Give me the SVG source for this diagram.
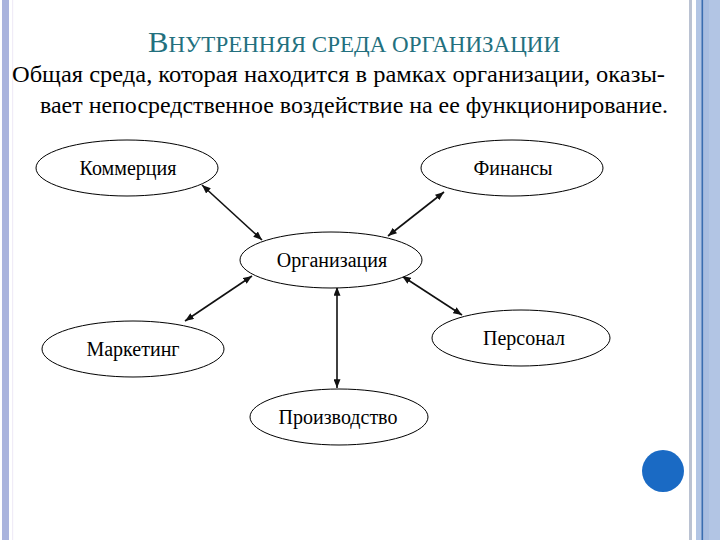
<svg xmlns="http://www.w3.org/2000/svg" width="720" height="540" viewBox="0 0 720 540">
<style>
.node ellipse{fill:#fff;stroke:#000;stroke-width:1}
.node text{font-family:"Liberation Serif","Times New Roman",serif;font-size:20px;fill:#000;text-anchor:middle}
.conn line{stroke:#111;stroke-width:1.6}
.body{font-family:"Liberation Serif","Times New Roman",serif;font-size:24px;fill:#000}
.title{font-family:"Liberation Serif","Times New Roman",serif;fill:#23707e}
</style>
<defs>
<marker id="ah" viewBox="0 0 10 8" refX="10" refY="4" markerWidth="9" markerHeight="7" markerUnits="userSpaceOnUse" orient="auto-start-reverse">
<path d="M0,0 L10,4 L0,8 z" fill="#111"/>
</marker>
</defs>
<rect width="720" height="540" fill="#fff"/>
<g id="frame">
<rect x="2" y="0" width="7" height="540" fill="#aab4dd"/>
<rect x="12" y="0" width="1.2" height="540" fill="#f0ecf7"/>
<rect x="689" y="0" width="3" height="540" fill="#bac2d2"/>
<rect x="696" y="0" width="24" height="540" fill="#b2c5e4"/>
<rect x="703" y="0" width="6" height="540" fill="#a9bde0"/>
<rect x="701.5" y="0" width="1.6" height="540" fill="#3a6db0"/>
</g>
<g id="title">
<text class="title" x="148" y="52" textLength="412" lengthAdjust="spacingAndGlyphs"><tspan font-size="30">В</tspan><tspan font-size="22.5">НУТРЕННЯЯ СРЕДА ОРГАНИЗАЦИИ</tspan></text>
</g>
<g id="description">
<text class="body" x="12" y="82" textLength="653" lengthAdjust="spacingAndGlyphs">Общая среда, которая находится в рамках организации, оказы-</text>
<text class="body" x="40" y="113" textLength="628" lengthAdjust="spacingAndGlyphs">вает непосредственное воздействие на ее функционирование.</text>
</g>
<g id="connectors" class="conn">
<line x1="202" y1="185" x2="262" y2="240" marker-start="url(#ah)" marker-end="url(#ah)"/>
<line x1="444" y1="192" x2="388" y2="236" marker-start="url(#ah)" marker-end="url(#ah)"/>
<line x1="252" y1="276" x2="185" y2="321" marker-start="url(#ah)" marker-end="url(#ah)"/>
<line x1="402" y1="276" x2="462" y2="315" marker-start="url(#ah)" marker-end="url(#ah)"/>
<line x1="337" y1="287" x2="337" y2="388" marker-start="url(#ah)" marker-end="url(#ah)"/>
</g>
<g id="node-kommertsiya" class="node">
<ellipse cx="127" cy="168" rx="91" ry="28"/>
<text x="128" y="175">Коммерция</text>
</g>
<g id="node-finansy" class="node">
<ellipse cx="512" cy="168" rx="91" ry="28"/>
<text x="513" y="175">Финансы</text>
</g>
<g id="node-organizatsiya" class="node">
<ellipse cx="331" cy="260" rx="91" ry="28"/>
<text x="332" y="267">Организация</text>
</g>
<g id="node-marketing" class="node">
<ellipse cx="133" cy="349" rx="91" ry="28"/>
<text x="133" y="356">Маркетинг</text>
</g>
<g id="node-personal" class="node">
<ellipse cx="521" cy="338" rx="89" ry="28"/>
<text x="524" y="345">Персонал</text>
</g>
<g id="node-proizvodstvo" class="node">
<ellipse cx="339" cy="417" rx="89" ry="28"/>
<text x="338" y="424">Производство</text>
</g>
<circle id="bullet" cx="663" cy="471" r="21" fill="#1a6ac4"/>
</svg>
